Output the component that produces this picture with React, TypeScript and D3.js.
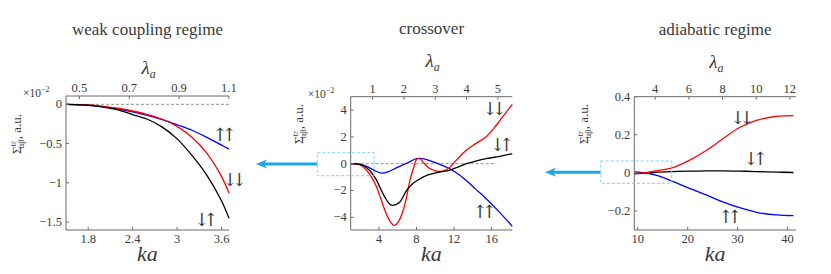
import React from 'react';
import * as d3 from 'd3';

// ---- data ----
// weak coupling regime (values in units of 1e-2)
const weakKa = [1.5, 1.75, 2.0, 2.2, 2.4, 2.6, 2.8, 3.0, 3.2, 3.4, 3.6, 3.7];
const weakUpUp = [0, -0.01, -0.03, -0.06, -0.095, -0.14, -0.195, -0.26, -0.33, -0.42, -0.52, -0.57];
const weakDownDown = [0, -0.005, -0.025, -0.05, -0.085, -0.13, -0.19, -0.28, -0.42, -0.62, -0.92, -1.13];
const weakDownUp = [0, -0.008, -0.035, -0.07, -0.13, -0.19, -0.29, -0.44, -0.65, -0.9, -1.23, -1.45];

// crossover (values in units of 1e-2)
const crossUpUpKa = [1, 2, 2.7, 3.5, 4.3, 5.0, 5.9, 7.0, 8.0, 8.6, 9.1, 10.3, 11.5, 12.4, 13.3, 14.3, 15.4, 16.8, 18.2];
const crossUpUp = [0, -0.05, -0.2, -0.5, -0.7, -0.6, -0.3, 0.05, 0.37, 0.38, 0.3, 0.0, -0.37, -0.75, -1.25, -1.9, -2.6, -3.6, -4.68];
const crossDownDownKa = [1, 2, 2.7, 3.3, 3.76, 4.2, 4.64, 5.1, 5.63, 6.1, 6.59, 7.0, 7.3, 7.7, 8.07, 8.4, 8.7, 9.3, 10.1, 10.8, 11.5, 12.3, 13.3, 14.3, 15.4, 16.2, 16.85, 17.5, 18.2];
const crossDownDown = [0, -0.1, -0.5, -1.1, -1.74, -2.6, -3.48, -4.2, -4.6, -4.3, -3.48, -2.3, -1.25, -0.3, 0.37, 0.35, 0.12, -0.3, -0.55, -0.55, -0.3, 0.3, 1.0, 1.5, 2.0, 2.6, 3.2, 3.8, 4.43];
const crossDownUpKa = [1, 2, 2.7, 3.3, 3.76, 4.2, 4.64, 5.0, 5.35, 5.8, 6.23, 6.95, 7.5, 8.07, 9.1, 10.5, 11.5, 12.4, 13.3, 14.3, 15.4, 16.85, 18.2];
const crossDownUp = [0, -0.05, -0.3, -0.75, -1.25, -1.9, -2.5, -2.9, -3.1, -3.05, -2.86, -2.0, -1.55, -1.25, -0.87, -0.63, -0.5, -0.25, 0, 0.2, 0.37, 0.55, 0.75];

// adiabatic regime
const adiaKa = [9.3, 12, 14, 17, 20, 23.8, 27, 30.4, 33.8, 37.8, 41.2];
const adiaUpUp = [0.005, -0.002, -0.015, -0.045, -0.078, -0.117, -0.152, -0.183, -0.207, -0.221, -0.225];
const adiaDownDown = [-0.003, 0.003, 0.012, 0.028, 0.062, 0.119, 0.178, 0.238, 0.276, 0.297, 0.301];
const adiaDownUp = [-0.005, 0, 0.004, 0.007, 0.009, 0.01, 0.01, 0.009, 0.007, 0.004, 0.002];

const titles = ['weak coupling regime', 'crossover', 'adiabatic regime'];
const spinLabels = ['\u2191\u2191', '\u2193\u2193', '\u2193\u2191'];
const weakKaTicks = [1.8, 2.4, 3, 3.6];
const weakYTicks = [0, -0.5, -1, -1.5];
const weakLamTicks = [0.5, 0.7, 0.9, 1.1];
const crossKaTicks = [4, 8, 12, 16];
const crossYTicks = [4, 2, 0, -2, -4];
const crossLamTicks = [1, 2, 3, 4, 5];
const adiaKaTicks = [10, 20, 30, 40];
const adiaYTicks = [0.4, 0.2, 0, -0.2];
const adiaLamTicks = [4, 6, 8, 10, 12];

const RED = '#ff0000';
const BLUE = '#0000ff';
const AXIS = '#6b6b6b';
const TEXT = '#3a3a3a';
const CYAN = '#1ba6e6';
const serif = { fontFamily: "'Liberation Serif', 'DejaVu Serif', serif" };
const arrowFont = { fontFamily: "'DejaVu Serif', 'DejaVu Sans', serif" };

const fmtG = (d: number) => String(d).replace('-', '\u2212');

type Series = { ka: number[]; v: number[]; color: string };
type Lab = { text: string; x: number; y: number };

type PanelCfg = {
  title: string;
  titleY: number;
  lamY: number;
  x0: number; x1: number; y0: number; y1: number;
  kaDomain: [number, number];
  yDomain: [number, number];
  lamRatio: number;
  kaTicks: number[]; yTicks: number[]; lamTicks: number[];
  lamFmt: (d: number) => string;
  series: Series[];
  zeroEnd: number | null;
  scaleNote: boolean;
  yLabelX: number; yLabelY: number;
  labels: Lab[];
};

// spin label anchors (centre of the glyph pair) in page pixels
const panels: PanelCfg[] = [
  {
    title: titles[0], titleY: 35, lamY: 74,
    x0: 66, x1: 229, y0: 96, y1: 230,
    kaDomain: [1.5, 3.7], yDomain: [-1.6, 0.106], lamRatio: 0.2975,
    kaTicks: weakKaTicks, yTicks: weakYTicks, lamTicks: weakLamTicks,
    lamFmt: d3.format('.1f'),
    series: [
      { ka: weakKa, v: weakUpUp, color: BLUE },
      { ka: weakKa, v: weakDownDown, color: RED },
      { ka: weakKa, v: weakDownUp, color: '#000' },
    ],
    zeroEnd: 3.7, scaleNote: true, yLabelX: 21, yLabelY: 134,
    labels: [
      { text: spinLabels[0], x: 221.7, y: 135 },
      { text: spinLabels[1], x: 231.7, y: 180 },
      { text: spinLabels[2], x: 203.3, y: 220 },
    ],
  },
  {
    title: titles[1], titleY: 34, lamY: 67,
    x0: 350.7, x1: 512.3, y0: 96.7, y1: 230,
    kaDomain: [1, 18.2], yDomain: [-4.95, 5.0], lamRatio: 0.3,
    kaTicks: crossKaTicks, yTicks: crossYTicks, lamTicks: crossLamTicks,
    lamFmt: d3.format('d'),
    series: [
      { ka: crossUpUpKa, v: crossUpUp, color: BLUE },
      { ka: crossDownDownKa, v: crossDownDown, color: RED },
      { ka: crossDownUpKa, v: crossDownUp, color: '#000' },
    ],
    zeroEnd: 16.5, scaleNote: true, yLabelX: 303, yLabelY: 124,
    labels: [
      { text: spinLabels[1], x: 491.7, y: 109.3 },
      { text: spinLabels[2], x: 499, y: 145 },
      { text: spinLabels[0], x: 481.7, y: 211.7 },
    ],
  },
  {
    title: titles[2], titleY: 35, lamY: 68,
    x0: 634.3, x1: 796, y0: 96.7, y1: 230,
    kaDomain: [9.3, 41.7], yDomain: [-0.3, 0.4], lamRatio: 0.2965,
    kaTicks: adiaKaTicks, yTicks: adiaYTicks, lamTicks: adiaLamTicks,
    lamFmt: d3.format('d'),
    series: [
      { ka: adiaKa, v: adiaDownUp, color: '#000' },
      { ka: adiaKa, v: adiaUpUp, color: BLUE },
      { ka: adiaKa, v: adiaDownDown, color: RED },
    ],
    zeroEnd: null, scaleNote: false, yLabelX: 588, yLabelY: 124,
    labels: [
      { text: spinLabels[1], x: 739.3, y: 118.3 },
      { text: spinLabels[2], x: 752.7, y: 159.3 },
      { text: spinLabels[0], x: 727.3, y: 216.7 },
    ],
  },
];

function YLabel({ x, y }: { x: number; y: number }) {
  return (
    <text transform={`translate(${x},${y}) rotate(-90)`} textAnchor="middle" style={serif} fontSize={13} fill={TEXT}>
      {'\u03A3'}
      <tspan fontSize={8.5} dy={-5}>tr</tspan>
      <tspan fontSize={8.5} dx={-7} dy={8}>{'\u03B1\u03B2'}</tspan>
      <tspan dy={-3}>, a.u.</tspan>
    </text>
  );
}

function Panel({ p }: { p: PanelCfg }) {
  const x = d3.scaleLinear().domain(p.kaDomain).range([p.x0, p.x1]);
  const y = d3.scaleLinear().domain(p.yDomain).range([p.y1, p.y0]);
  const lam = d3.scaleLinear().domain([p.kaDomain[0] * p.lamRatio, p.kaDomain[1] * p.lamRatio]).range([p.x0, p.x1]);
  const line = d3.line<[number, number]>().x(d => x(d[0])).y(d => y(d[1])).curve(d3.curveCatmullRom.alpha(0.5));
  const cx = (p.x0 + p.x1) / 2;
  return (
    <g>
      <text x={cx} y={p.titleY} textAnchor="middle" style={serif} fontSize={17} fill={TEXT}>{p.title}</text>
      <text x={cx - 6} y={p.lamY} style={serif} fontSize={19} fontStyle="italic" fill={TEXT}>
        {'\u03BB'}<tspan fontSize={12} dy={4}>a</tspan>
      </text>
      {p.zeroEnd !== null && (
        <line x1={x(p.kaDomain[0])} x2={x(p.zeroEnd)} y1={y(0)} y2={y(0)} stroke="#777" strokeWidth={0.8} strokeDasharray="3,2" />
      )}
      {p.series.map((s, i) => (
        <path key={i} d={line(s.ka.map((k, j) => [k, s.v[j]] as [number, number])) || ''} fill="none" stroke={s.color} strokeWidth={1.3} />
      ))}
      {/* axes */}
      <line x1={p.x0} x2={p.x0} y1={p.y0} y2={p.y1} stroke={AXIS} strokeWidth={1} />
      <line x1={p.x0} x2={p.x1} y1={p.y1} y2={p.y1} stroke={AXIS} strokeWidth={1} />
      <line x1={p.x0} x2={p.x1} y1={p.y0} y2={p.y0} stroke={AXIS} strokeWidth={1} />
      {p.kaTicks.map(t => (
        <g key={'k' + t}>
          <line x1={x(t)} x2={x(t)} y1={p.y1} y2={p.y1 - 3} stroke={AXIS} />
          <text x={x(t)} y={p.y1 + 12.5} textAnchor="middle" style={serif} fontSize={12.5} fill={TEXT}>{t}</text>
        </g>
      ))}
      {p.lamTicks.map(t => (
        <g key={'l' + t}>
          <line x1={lam(t)} x2={lam(t)} y1={p.y0} y2={p.y0 + 3} stroke={AXIS} />
          <text x={lam(t)} y={p.y0 - 4} textAnchor="middle" style={serif} fontSize={12.5} fill={TEXT}>{p.lamFmt(t)}</text>
        </g>
      ))}
      {p.yTicks.map(t => (
        <g key={'y' + t}>
          <line x1={p.x0} x2={p.x0 + 3} y1={y(t)} y2={y(t)} stroke={AXIS} />
          <text x={p.x0 - 4} y={y(t) + 4} textAnchor="end" style={serif} fontSize={12.5} fill={TEXT}>{fmtG(t)}</text>
        </g>
      ))}
      {p.scaleNote && (
        <text x={p.x0 - 43} y={p.y0 + 1} style={serif} fontSize={11.5} fill={TEXT}>
          {'\u00D710'}<tspan fontSize={8} dy={-5}>{'\u22122'}</tspan>
        </text>
      )}
      <text x={cx} y={261} textAnchor="middle" style={serif} fontSize={22} fontStyle="italic" fill={TEXT}>ka</text>
      <YLabel x={p.yLabelX} y={p.yLabelY} />
      {p.labels.map((l, i) => (
        <text key={i} x={l.x} y={l.y + 6} textAnchor="middle" style={arrowFont} fontSize={18} letterSpacing={-6} fill={TEXT}>{l.text}</text>
      ))}
    </g>
  );
}

function Arrow({ tip, tail, yy }: { tip: number; tail: number; yy: number }) {
  return (
    <g>
      <line x1={tip + 6} x2={tail} y1={yy} y2={yy} stroke={CYAN} strokeWidth={3} />
      <path d={`M${tip},${yy} L${tip + 11},${yy - 4.5} L${tip + 8},${yy} L${tip + 11},${yy + 4.5} Z`} fill={CYAN} />
    </g>
  );
}

export default function App() {
  return (
    <svg width={831} height={274} style={{ position: 'absolute', left: 0, top: 0, background: '#fff' }}>
      {panels.map((p, i) => <Panel key={i} p={p} />)}
      <Arrow tip={256} tail={317.3} yy={164} />
      <rect x={317.3} y={152.7} width={57} height={23} fill="none" stroke="#7fd0f2" strokeWidth={1} strokeDasharray="3,2" />
      <Arrow tip={545} tail={600.7} yy={172.3} />
      <rect x={600.7} y={161} width={71} height={22.3} fill="none" stroke="#7fd0f2" strokeWidth={1} strokeDasharray="3,2" />
    </svg>
  );
}
